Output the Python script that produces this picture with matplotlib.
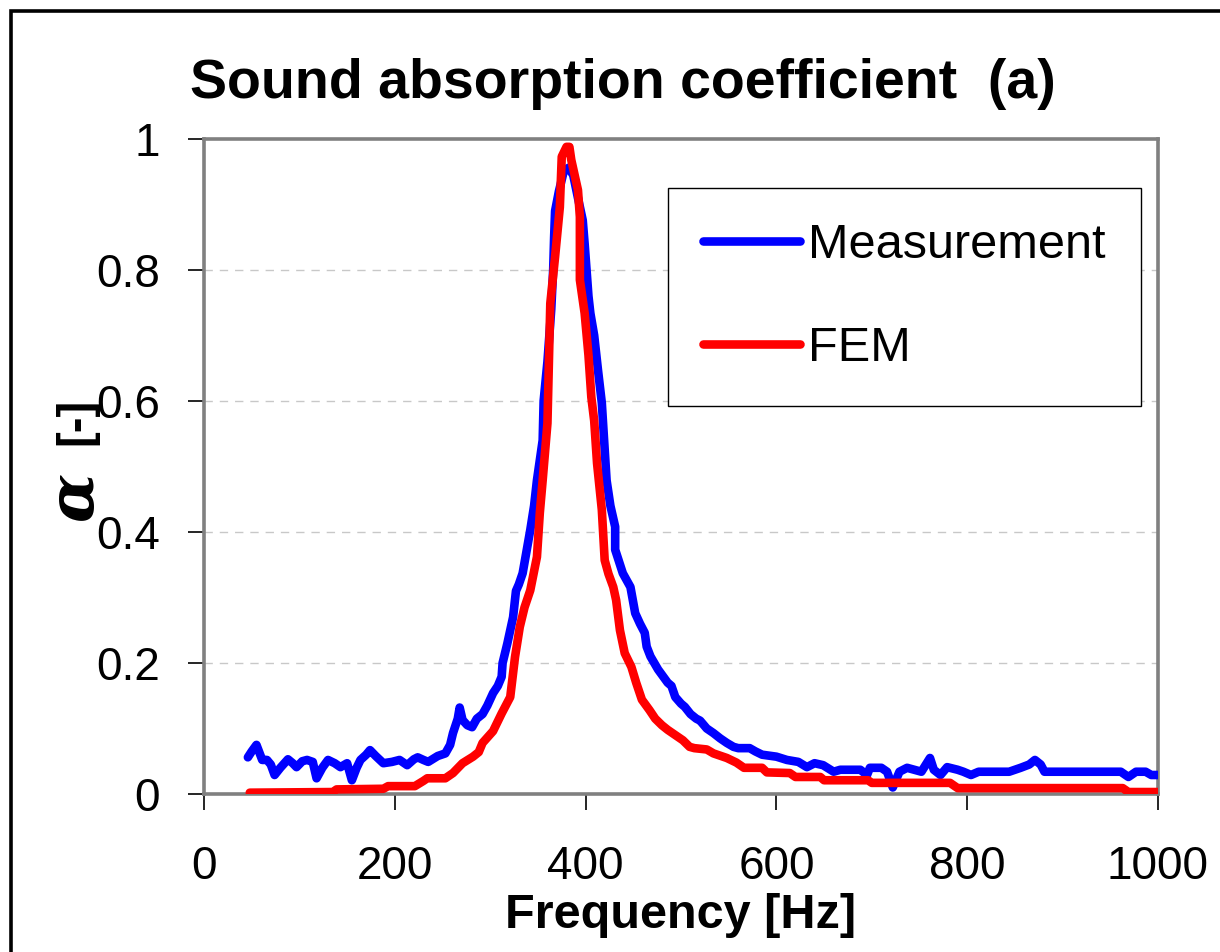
import matplotlib
matplotlib.use("Agg")
import matplotlib.pyplot as plt
from matplotlib.patches import Rectangle

plt.rcParams['font.family'] = ['Liberation Sans', 'DejaVu Sans']

# ---------------- data ----------------
meas_f = [46, 50, 55, 61, 66, 70, 74, 80, 88, 93, 97, 103, 108, 114, 118, 124, 130, 137, 143,
          150, 155, 160, 164, 170, 174, 180, 188, 197, 205, 213, 220, 224, 230, 235, 245, 253,
          258, 261, 266, 268, 271, 276, 281, 286, 292, 297, 303, 308, 312, 313, 318, 324, 327,
          330, 334, 338, 342, 346, 349, 352, 355, 356, 360, 364, 366, 367, 368, 372, 377, 382,
          387, 392, 397, 399, 401, 403, 405, 409, 413, 417, 419, 422, 426, 431, 431, 435, 439,
          447, 452, 457, 462, 464, 468, 476, 480, 486, 490, 494, 500, 504, 510, 516, 520, 527,
          534, 541, 548, 555, 560, 572, 578, 585, 600, 611, 623, 632, 640, 649, 660, 667, 688,
          695, 698, 710, 716, 722, 729, 737, 752, 761, 765, 772, 779, 790, 796, 804, 812, 844,
          856, 865, 871, 877, 881, 961, 969, 977, 987, 993, 1002]
meas_a = [0.056, 0.065, 0.075, 0.052, 0.052, 0.045, 0.029, 0.040, 0.053, 0.047, 0.041, 0.050,
          0.052, 0.049, 0.024, 0.040, 0.052, 0.047, 0.041, 0.047, 0.021, 0.040, 0.052, 0.060,
          0.067, 0.058, 0.047, 0.049, 0.052, 0.044, 0.053, 0.056, 0.052, 0.049, 0.058, 0.062,
          0.075, 0.093, 0.115, 0.132, 0.113, 0.105, 0.102, 0.115, 0.122, 0.135, 0.154, 0.165,
          0.179, 0.200, 0.230, 0.270, 0.310, 0.320, 0.337, 0.370, 0.403, 0.440, 0.479, 0.510,
          0.540, 0.600, 0.660, 0.740, 0.800, 0.850, 0.890, 0.920, 0.950, 0.956, 0.945, 0.910,
          0.876, 0.840, 0.800, 0.760, 0.734, 0.700, 0.647, 0.597, 0.550, 0.479, 0.440, 0.408,
          0.373, 0.355, 0.337, 0.316, 0.276, 0.260, 0.246, 0.225, 0.210, 0.190, 0.182, 0.170,
          0.165, 0.148, 0.138, 0.133, 0.122, 0.115, 0.112, 0.100, 0.093, 0.085, 0.078, 0.072,
          0.070, 0.070, 0.065, 0.060, 0.057, 0.052, 0.049, 0.041, 0.047, 0.044, 0.034, 0.037,
          0.037, 0.029, 0.040, 0.040, 0.034, 0.010, 0.034, 0.040, 0.034, 0.055, 0.037, 0.029,
          0.041, 0.037, 0.034, 0.029, 0.034, 0.034, 0.040, 0.045, 0.052, 0.045, 0.034, 0.034,
          0.026, 0.034, 0.034, 0.029, 0.029]

fem_f = [48, 135, 139, 188, 193, 221, 230, 234, 253, 261, 271, 282, 288, 292, 303, 312, 321,
         326, 331, 336, 342, 349, 352, 355, 360, 363, 368, 373, 375, 380, 383, 385, 392, 394,
         394, 399, 403, 406, 409, 412, 417, 420, 424, 429, 432, 436, 441, 448, 453, 459, 467,
         473, 480, 486, 497, 502, 509, 514, 527, 534, 548, 558, 566, 585, 590, 614, 620, 646,
         650, 696, 700, 782, 790, 963, 969, 1000]
fem_a = [0.002, 0.003, 0.007, 0.008, 0.012, 0.012, 0.020, 0.024, 0.024, 0.032, 0.047, 0.057,
         0.064, 0.078, 0.096, 0.123, 0.148, 0.209, 0.255, 0.285, 0.311, 0.362, 0.429, 0.479,
         0.566, 0.749, 0.820, 0.896, 0.973, 0.988, 0.988, 0.968, 0.922, 0.881, 0.785, 0.734,
         0.670, 0.606, 0.570, 0.505, 0.434, 0.357, 0.336, 0.316, 0.296, 0.250, 0.215, 0.194,
         0.170, 0.144, 0.128, 0.115, 0.105, 0.098, 0.087, 0.082, 0.072, 0.070, 0.068, 0.062,
         0.055, 0.048, 0.040, 0.040, 0.033, 0.032, 0.026, 0.026, 0.021, 0.021, 0.017, 0.017,
         0.009, 0.009, 0.003, 0.003]

x_ticks = [0, 200, 400, 600, 800, 1000]
y_ticks = [0, 0.2, 0.4, 0.6, 0.8, 1.0]
y_tick_labels = ['0', '0.2', '0.4', '0.6', '0.8', '1']

# ---------------- figure ----------------
W, H = 1220, 952
fig = plt.figure(figsize=(W / 100, H / 100), dpi=100)
fig.patch.set_facecolor('white')

# outer black frame (extends beyond right / bottom edges)
fig.patches.append(Rectangle((11 / W, -0.1), 1.2, 1 - 11 / H + 0.1,
                             transform=fig.transFigure, fill=False,
                             edgecolor='black', linewidth=2.6, zorder=0))

ax = fig.add_axes([204 / W, 1 - 794 / H, (1158 - 204) / W, (794 - 139) / H])
ax.set_xlim(0, 1000)
ax.set_ylim(0, 1)

for y in y_ticks[1:-1]:
    ax.axhline(y, color='#c8c8c8', lw=1.0, ls=(0, (6, 5)), zorder=1)

ax.plot(meas_f, meas_a, color='#0000ff', lw=6.2, solid_joinstyle='round',
        solid_capstyle='round', label='Measurement', zorder=3)
ax.plot(fem_f, fem_a, color='#ff0000', lw=6.2, solid_joinstyle='round',
        solid_capstyle='round', label='FEM', zorder=4)

ax.set_xticks(x_ticks)
ax.set_xticklabels([str(v) for v in x_ticks])
ax.set_yticks(y_ticks)
ax.set_yticklabels(y_tick_labels)
ax.tick_params(axis='both', direction='out', length=11.5, width=1.2, color='black',
               labelsize=33, pad=20)
ax.tick_params(axis='x', pad=25)

for s in ax.spines.values():
    s.set_color('#808080')
    s.set_linewidth(2.6)

ax.set_xlabel('Frequency [Hz]', fontsize=35, fontweight='bold', labelpad=3)

fig.text(190 / W, 1 - 84 / H, 'Sound absorption coefficient  (a)', fontsize=40,
         fontweight='bold', ha='left', va='center')

fig.text(75 / W, 1 - 496 / H, 'α', fontsize=46, fontweight='bold', style='italic',
         family=['DejaVu Serif'], rotation=90, ha='center', va='center')
fig.text(76 / W, 1 - 421 / H, '[-]', fontsize=34, fontweight='bold',
         rotation=90, ha='center', va='center')

leg = ax.legend(loc='upper left', bbox_to_anchor=(668 / W, 1 - 188 / H),
                bbox_transform=fig.transFigure, fontsize=35, frameon=True,
                fancybox=False, edgecolor='black', framealpha=1,
                handlelength=2.0, handletextpad=0.16, labelspacing=1.2,
                borderpad=0.72, borderaxespad=0)
leg.get_frame().set_linewidth(1.0)

fig.savefig('out.png', dpi=100, facecolor=fig.get_facecolor())
